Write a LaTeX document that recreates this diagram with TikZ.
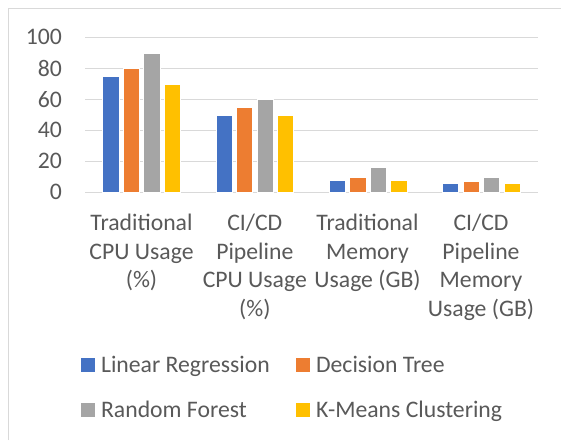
\documentclass[tikz,border=0pt]{standalone}
\usepackage{fontspec}
\setmainfont{Carlito}
\usetikzlibrary{positioning}
\definecolor{lrblue}{HTML}{4472C4}
\definecolor{dtorange}{HTML}{ED7D31}
\definecolor{rfgray}{HTML}{A5A5A5}
\definecolor{kmyellow}{HTML}{FFC000}
\definecolor{textgray}{HTML}{595959}
\definecolor{gridgray}{HTML}{D9D9D9}
\tikzset{
  bar/.style={draw=white, line width=0.6pt},
  grid line/.style={draw=gridgray, line width=1.4pt},
  frame line/.style={draw=gridgray, line width=1.2pt},
  tick label/.style={anchor=east, inner sep=0pt, text=textgray},
  cat label/.style={anchor=north, inner sep=0pt, align=center, text=textgray},
  legend key/.style={minimum size=14pt, inner sep=0pt},
  legend label/.style={anchor=base west, inner sep=0pt, text=textgray},
}
\begin{document}
\begin{tikzpicture}[x=1pt, y=-1pt, font=\fontsize{23.7}{28.5}\selectfont]
	\useasboundingbox (0,0) rectangle (561,440);
	\fill[white] (0,0) rectangle (561,440);
	\draw[frame line] (8.3,440) -- (8.3,8.3) -- (561,8.3);
	% gridlines and value axis
	\foreach \v in {0,20,...,100}{
		\draw[grid line] (85,192.3-1.55*\v) -- (537.7,192.3-1.55*\v);
		\node[tick label] (tick\v) at (62,192.3-1.55*\v) {\v};
	}
	% bars
	\foreach \g/\va/\vb/\vc/\vd in {0/75/80/90/70, 1/50/55/60/50, 2/8/10/16/8, 3/6/7/10/6}{
		\foreach \k/\v/\c in {0/\va/lrblue, 1/\vb/dtorange, 2/\vc/rfgray, 3/\vd/kmyellow}{
			\filldraw[bar, fill=\c] (102.7+113.2*\g+20.5*\k,192.3) rectangle (119+113.2*\g+20.5*\k,192.3-1.55*\v);
		}
	}
	% category labels
	\node[cat label] (cat1) at (141.5,214) {Traditional\\CPU Usage\\(\%)};
	\node[cat label] (cat2) at (254.8,214) {CI/CD\\Pipeline\\CPU Usage\\(\%)};
	\node[cat label] (cat3) at (367.5,214) {Traditional\\Memory\\Usage (GB)};
	\node[cat label] (cat4) at (481,214) {CI/CD\\Pipeline\\Memory\\Usage (GB)};
	% legend
	\node[legend key, fill=lrblue] (keylr) at (88,365.3) {};
	\node[legend key, fill=dtorange] (keydt) at (303,365.3) {};
	\node[legend key, fill=rfgray] (keyrf) at (88,410) {};
	\node[legend key, fill=kmyellow] (keykm) at (303,410) {};
	\node[legend label] (lr) at ([xshift=5.7pt,yshift=-7pt]keylr.east) {Linear Regression};
	\node[legend label] (dt) at ([xshift=5.7pt,yshift=-7pt]keydt.east) {Decision Tree};
	\node[legend label] (rf) at ([xshift=5.7pt,yshift=-7pt]keyrf.east) {Random Forest};
	\node[legend label] (km) at ([xshift=5.7pt,yshift=-7pt]keykm.east) {K-Means Clustering};
\end{tikzpicture}
\end{document}
